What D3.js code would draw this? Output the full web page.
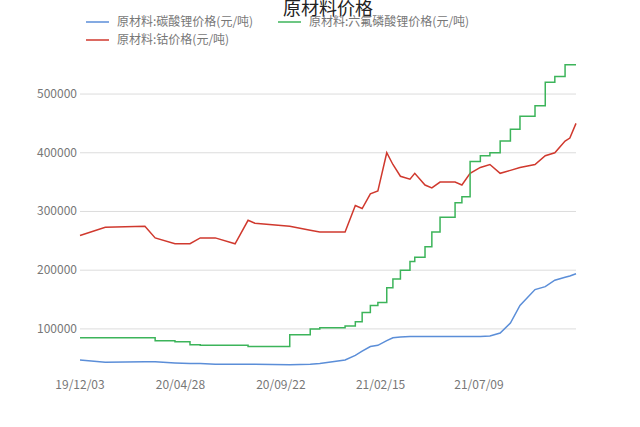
<!DOCTYPE html>
<html><head><meta charset="utf-8">
<script src="https://cdn.jsdelivr.net/npm/d3@7"></script>
<style>body{margin:0;background:#fff;font-family:"Noto Sans CJK SC","Noto Sans",sans-serif}</style>
</head><body><svg id="c" width="640" height="427"></svg>
<script>
var dates = ["2019-12-03","2020-01-09","2020-03-07","2020-03-22","2020-04-20","2020-05-12","2020-05-27","2020-06-18","2020-07-17","2020-08-05","2020-08-15","2020-10-05","2020-11-04","2020-11-18","2020-12-25","2021-01-09","2021-01-19","2021-01-31","2021-02-11","2021-02-24","2021-03-05","2021-03-16","2021-03-30","2021-04-06","2021-04-21","2021-05-01","2021-05-13","2021-06-04","2021-06-14","2021-06-26","2021-07-11","2021-07-25","2021-08-09","2021-08-24","2021-09-07","2021-09-29","2021-10-14","2021-10-28","2021-11-12","2021-11-19","2021-11-28"]
var lithium = [47,43,44,44,42,41,41,40,40,40,40,39,40,41,47,55,62,70,72,80,85,86,87,87,87,87,87,87,87,87,87,88,93,110,140,167,172,183,188,190,194]
var cobalt = [259,273,275,255,245,245,255,255,245,285,280,275,268,265,265,310,305,330,335,400,380,360,355,365,345,340,350,350,345,365,375,380,365,370,375,380,395,400,420,425,450]
var lipf6 = [85,85,85,80,78,73,72,72,72,70,70,90,100,102,105,112,128,140,145,170,185,200,215,222,240,265,290,315,325,385,395,400,420,440,462,480,520,530,550,550,550]
var xTicks = ["2019-12-03","2020-04-28","2020-09-22","2021-02-15","2021-07-09"]
var yTicks = [100000,200000,300000,400000,500000]
var names = ["原材料:碳酸锂价格(元/吨)","原材料:钴价格(元/吨)","原材料:六氟磷酸锂价格(元/吨)"]
var colors = ["#5b8ed8","#d0392e","#3cb45a"]

var svg = d3.select("#c")
var parse = d3.timeParse("%Y-%m-%d")
var fmt = d3.timeFormat("%y/%m/%d")
var x = d3.scaleTime().domain([parse(dates[0]),parse(dates[dates.length-1])]).range([80,576])
var y = d3.scaleLinear().domain([30000,575000]).range([370,50])

svg.selectAll(".grid").data(yTicks).enter().append("line")
    .attr("x1",80).attr("x2",576)
    .attr("y1",function(d){return y(d)}).attr("y2",function(d){return y(d)})
    .attr("stroke","#dcdcdc")
svg.selectAll(".yl").data(yTicks).enter().append("text")
    .attr("x",77).attr("y",function(d){return y(d)+4})
    .attr("text-anchor","end").attr("fill","#777").attr("font-size",12)
    .text(function(d){return d})
svg.selectAll(".xl").data(xTicks).enter().append("text")
    .attr("x",function(d){return x(parse(d))}).attr("y",389)
    .attr("text-anchor","middle").attr("fill","#777").attr("font-size",12)
    .text(function(d){return fmt(parse(d))})

var series = [lithium,cobalt,lipf6]
series.forEach(function(s,k){
    var line = d3.line()
        .x(function(d,i){return x(parse(dates[i]))})
        .y(function(d){return y(d*1000)})
    if(k==2) line.curve(d3.curveStepAfter)
    svg.append("path").datum(s).attr("d",line)
        .attr("fill","none").attr("stroke",colors[k]).attr("stroke-width",1.5)
})

svg.append("text").text("原材料价格").attr("x",328).attr("y",15)
    .attr("text-anchor","middle").attr("font-size",18).attr("fill","#222")
var leg = [[86,22],[86,40],[278,22]]
names.forEach(function(n,k){
    svg.append("line").attr("x1",leg[k][0]).attr("x2",leg[k][0]+23)
        .attr("y1",leg[k][1]).attr("y2",leg[k][1]).attr("stroke",colors[k]).attr("stroke-width",1.5)
    svg.append("text").text(n).attr("x",leg[k][0]+31).attr("y",leg[k][1]+4)
        .attr("font-size",12).attr("fill","#777")
})
</script></body></html>
